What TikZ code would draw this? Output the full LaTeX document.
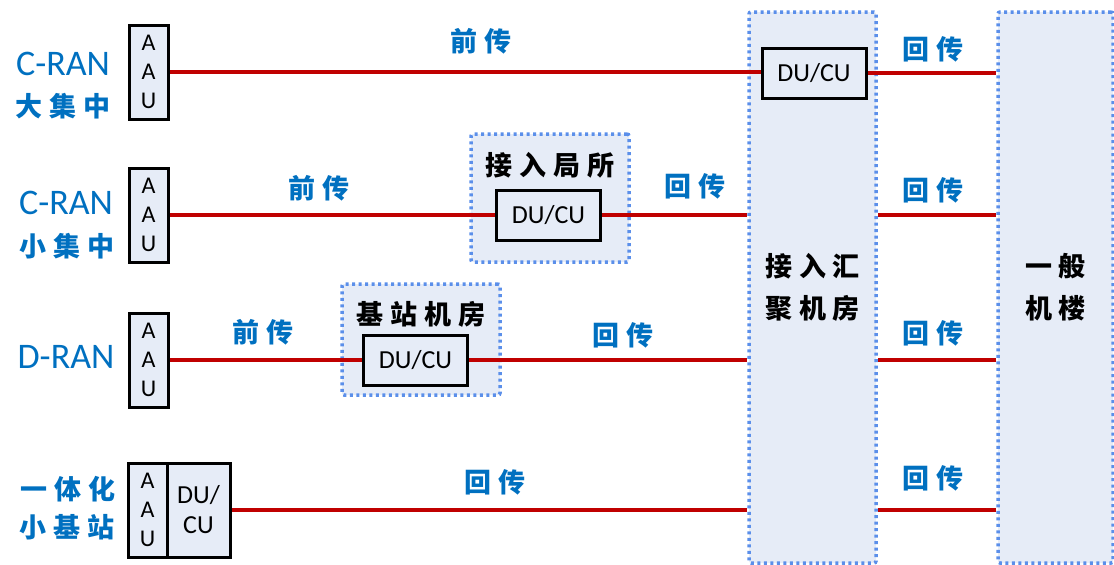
\documentclass[tikz,border=0pt]{standalone}
\usepackage{fontspec}
\setmainfont{Carlito}
\newfontfamily\cjk[LetterSpace=25]{Noto Sans CJK SC}
\usetikzlibrary{positioning}
\definecolor{boxfill}{HTML}{E6ECF7}
\definecolor{dotblue}{HTML}{5B8FEA}
\definecolor{linkred}{HTML}{C00000}
\definecolor{textblue}{HTML}{0070C0}
\tikzset{
  unit/.style = {draw=black, line width=3pt, fill=boxfill, inner sep=0pt, align=center},
  aau/.style = {unit, minimum width=39pt, minimum height=94pt, font=\fontsize{24}{29}\selectfont},
  ducu/.style = {unit, minimum width=104pt, minimum height=50pt, font=\fontsize{26}{30}\selectfont},
  room/.style = {draw=dotblue, line width=3.5pt, dash pattern=on 3pt off 3.5pt, fill=boxfill,
    rounded corners=2pt, inner sep=0pt, align=center, font=\cjk\bfseries\fontsize{27}{42}\selectfont},
  roomlabel/.style = {text=black, font=\cjk\bfseries\fontsize{27}{42}\selectfont},
  link/.style = {draw=linkred, line width=3.2pt},
  linktag/.style = {text=textblue, font=\cjk\bfseries\fontsize{27}{30}\selectfont},
  sitename/.style = {text=textblue, font=\fontsize{36}{40}\selectfont}
}

\begin{document}
\begin{tikzpicture}[x=1pt, y=-1pt]
\useasboundingbox (0,0) rectangle (1114,565);

% rooms
\node (AGG) [room, minimum width=127pt, minimum height=551pt] at (812.5,287.5) {接入汇\\聚机房};
\node (GEN) [room, minimum width=115pt, minimum height=551pt] at (1055.5,287.5) {一般\\机楼};
\node (LOCAL) [room, minimum width=158pt, minimum height=128pt] at (550,198) {};
\node (BS) [room, minimum width=158pt, minimum height=111pt] at (421,339.5) {};
\node (LOCALlabel) [roomlabel] at (550,165) {接入局所};
\node (BSlabel) [roomlabel] at (421,314.5) {基站机房};

% radio units and DU/CU
\node (AAU1) [aau] at (148.5,72) {A\\A\\U};
\node (AAU2) [aau] at (148.5,215) {A\\A\\U};
\node (AAU3) [aau] at (148.5,360) {A\\A\\U};
\node (AAU4) [aau] at (147.5,510) {A\\A\\U};
\node (DU1) [ducu] at (814,73) {DU/CU};
\node (DU2) [ducu] at (548.5,215) {DU/CU};
\node (DU3) [ducu] at (415.5,360) {DU/CU};
\node (DU4) [ducu, minimum width=63pt, minimum height=94pt, right=-3pt of AAU4] {DU/\\CU};

% site names
\node (CRAN1) [sitename] at (63,64) {C-RAN};
\node (CRAN1cn) [linktag] at (63,106) {大集中};
\node (CRAN2) [sitename] at (66,202.5) {C-RAN};
\node (CRAN2cn) [linktag] at (67,246) {小集中};
\node (DRAN) [sitename] at (66,357) {D-RAN};
\node (SMALL1) [linktag] at (68,489) {一体化};
\node (SMALL2) [linktag] at (67,527) {小基站};

% links
\draw [link] (AAU1.east) -- (AAU1.east -| DU1.west);
\draw [link] (DU1.east) -- (DU1.east -| GEN.west);
\draw [link] (AAU2.east) -- (DU2.west);
\draw [link] (DU2.east) -- (DU2.east -| AGG.west);
\draw [link] (AAU2 -| AGG.east) -- (AAU2 -| GEN.west);
\draw [link] (AAU3.east) -- (DU3.west);
\draw [link] (DU3.east) -- (DU3.east -| AGG.west);
\draw [link] (AAU3 -| AGG.east) -- (AAU3 -| GEN.west);
\draw [link] (DU4.east) -- (DU4.east -| AGG.west);
\draw [link] (DU4 -| AGG.east) -- (DU4 -| GEN.west);

% link labels
\node (FH1) [linktag] at (481,41) {前传};
\node (FH2) [linktag] at (319,188) {前传};
\node (FH3) [linktag] at (263,332) {前传};
\node (BH2) [linktag] at (695,186) {回传};
\node (BH3) [linktag] at (623,335) {回传};
\node (BH4) [linktag] at (495,482) {回传};
\node (BHR1) [linktag] at (933,49) {回传};
\node (BHR2) [linktag] at (933,190) {回传};
\node (BHR3) [linktag] at (933,333) {回传};
\node (BHR4) [linktag] at (933,478) {回传};

\end{tikzpicture}
\end{document}
